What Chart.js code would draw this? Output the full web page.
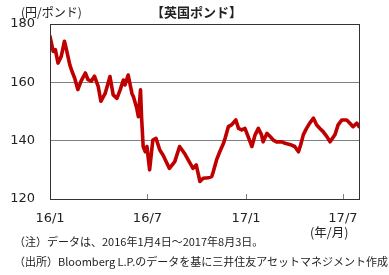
<!DOCTYPE html>
<html><head><meta charset="utf-8">
<script src="https://cdn.jsdelivr.net/npm/chart.js@4"></script>
<style>
html,body{margin:0;padding:0;background:#fff;}
#wrap{position:relative;width:389px;height:275px;overflow:hidden;}
canvas{position:absolute;left:0;top:0;}
.t{position:absolute;white-space:nowrap;color:#222;font-family:"Noto Sans CJK JP","Noto Sans",sans-serif;line-height:1;}
</style></head><body>
<div id="wrap">
<canvas id="c" width="389" height="275"></canvas>
<div class="t" style="left:0;width:393px;text-align:center;top:5px;font-size:13px;font-weight:bold;">【英国ポンド】</div>
<div class="t" style="left:21px;top:6px;font-size:12px;">(円/ポンド)</div>
<div class="t" style="left:310px;top:226px;font-size:12.5px;">(年/月)</div>
<div class="t" style="left:14px;top:236px;font-size:11px;">（注）データは、2016年1月4日～2017年8月3日。</div>
<div class="t" style="left:14px;top:256px;font-size:11px;">（出所）Bloomberg L.P.のデータを基に三井住友アセットマネジメント作成</div>
</div>
<script>
// days since 2016-01-01
const days = [0,6,10,15,21,27,30,37,41,46,52,58,66,71,77,83,90,95,103,112,118,125,131,137,140,146,153,156,162,165,169,171,174,178,181,186,192,198,205,211,217,223,233,242,251,258,267,273,280,286,295,302,305,311,317,324,327,333,339,347,352,358,364,370,377,383,389,395,398,405,411,417,423,433,439,451,457,464,468,473,479,485,492,498,504,510,517,523,532,538,545,554,560,566,573,577];
const gbpjpy = [175.8,170.6,171.2,166.6,168.9,174.1,171.8,166,163.8,161.5,157.5,160.4,163.2,160.9,160.4,162.1,158.6,153.5,156.2,162,155.7,154.5,157.4,160.8,159.1,162.5,156.2,155,151.1,148.2,157.4,148,138,136.2,138,130,140.2,140.8,136.8,135.1,132.8,130.5,132.8,138,135.7,133.4,130.5,131.7,126,127.1,127.3,127.7,129.4,133.4,136.2,139.1,140.8,144.8,145.4,147.1,144.2,143.7,144.2,141.4,138,142,144.2,142,139.6,142.5,141.4,140.2,139.6,139.6,139.1,138.5,138,136.2,138.5,142,144.2,146,147.7,145.4,144.2,143.1,141.4,139.6,142,145.4,147.1,147.1,146,144.8,146,144.8];
const tickDays = [0,182,366,547];
const tickLabels = ['16/1','16/7','17/1','17/7'];
const yTicks = [120,140,160,180];

const frame = {
  id:'frame',
  afterDraw(chart){
    const {ctx, chartArea:a, scales:{x}} = chart;
    ctx.save();
    ctx.strokeStyle='#7f7f7f'; ctx.lineWidth=1;
    tickDays.slice(1).forEach(d=>{
      const px=Math.round(x.getPixelForValue(d))+0.5;
      ctx.beginPath(); ctx.moveTo(px,a.bottom); ctx.lineTo(px,a.bottom-5); ctx.stroke();
    });
    ctx.strokeStyle='#333'; ctx.lineWidth=1;
    ctx.strokeRect(Math.round(a.left)+0.5,Math.round(a.top)+0.5,Math.round(a.right-a.left),Math.round(a.bottom-a.top));
    ctx.restore();
  }
};

new Chart(document.getElementById('c'),{
  type:'line',
  data:{datasets:[{data:days.map((d,i)=>({x:d,y:gbpjpy[i]})),borderColor:'#c00000',borderWidth:3.6,pointRadius:0,tension:0,fill:false,borderJoinStyle:'round',borderCapStyle:'round'}]},
  options:{
    responsive:false,animation:false,
    layout:{padding:{top:24,right:30,left:0,bottom:0}},
    plugins:{legend:{display:false},tooltip:{enabled:false}},
    scales:{
      x:{type:'linear',min:0,max:577,
        afterBuildTicks(s){s.ticks=tickDays.map(v=>({value:v}));},
        afterFit(s){s.height=76;},
        grid:{display:false,drawTicks:false},border:{display:false},
        ticks:{padding:12,maxRotation:0,autoSkip:false,color:'#222',font:{family:'DejaVu Sans',size:13},
          callback:(v,i)=>tickLabels[i]}},
      y:{min:120,max:180,
        afterBuildTicks(s){s.ticks=yTicks.map(v=>({value:v}));},
        afterFit(s){s.width=50;},
        grid:{color:'#808080',drawTicks:false},border:{display:false},
        ticks:{padding:15,color:'#222',font:{family:'DejaVu Sans',size:13}}}
    }
  },
  plugins:[frame]
});
</script>
</body></html>
